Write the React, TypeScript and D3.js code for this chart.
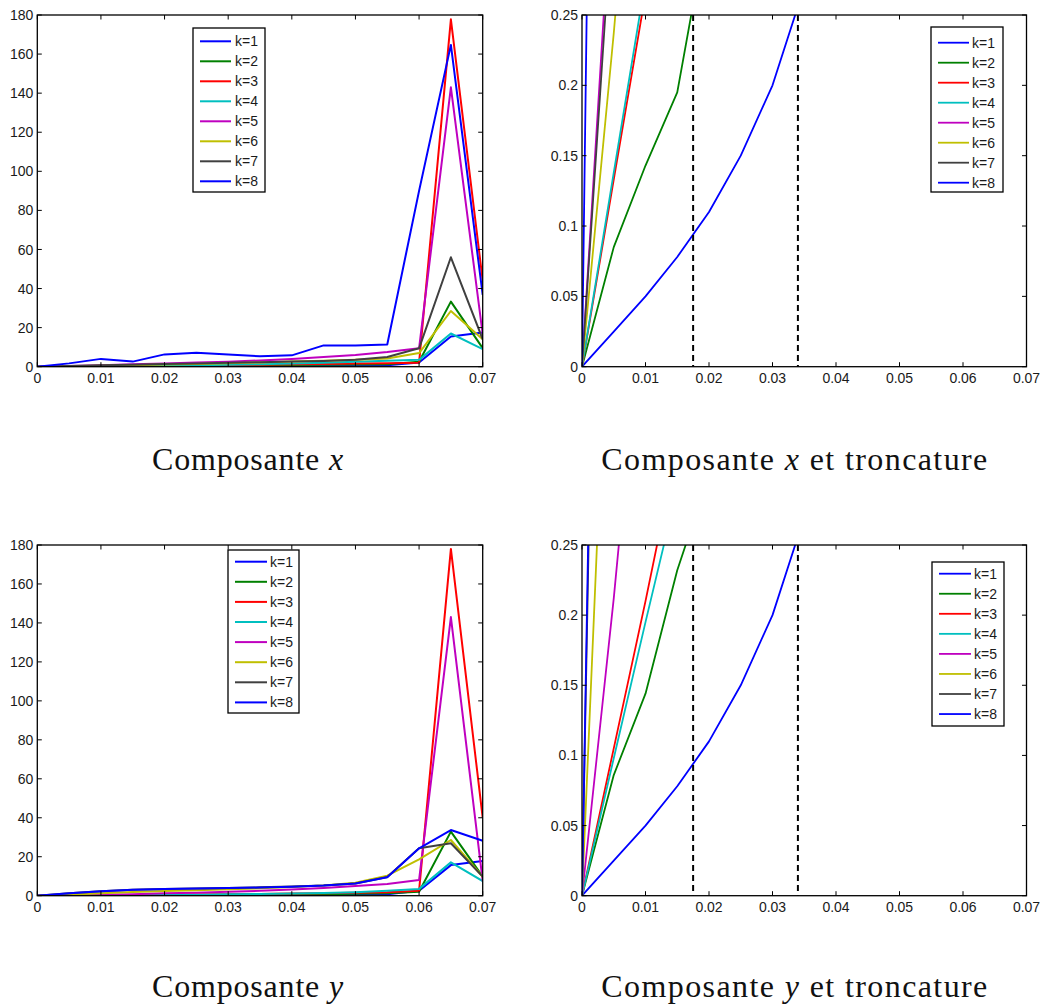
import React from "react";
import * as d3 from "d3";

// ---------- data ----------
const steps = [0, 0.005, 0.01, 0.015, 0.02, 0.025, 0.03, 0.035, 0.04, 0.045, 0.05, 0.055, 0.06, 0.065, 0.07];

const legendLabels = ["k=1", "k=2", "k=3", "k=4", "k=5", "k=6", "k=7", "k=8"];
const seriesColors = ["#0000ff", "#008000", "#ff0000", "#00bfbf", "#bf00bf", "#bfbf00", "#404040", "#0000ff"];

// Composante x
const xK1 = [0, 0.025, 0.05, 0.078, 0.11, 0.15, 0.2, 0.27, 0.35, 0.45, 0.6, 0.8, 2.2, 15.5, 17.5];
const xK2 = [0, 0.085, 0.143, 0.195, 0.32, 0.45, 0.6, 0.75, 0.9, 1.0, 1.1, 1.3, 2.5, 33.3, 9.5];
const xK3 = [0, 0.133, 0.265, 0.4, 0.55, 0.7, 0.85, 1.0, 1.2, 1.4, 1.6, 1.8, 2.0, 177.8, 44];
const xK4 = [0, 0.138, 0.275, 0.42, 0.6, 0.8, 1.0, 1.3, 1.6, 2.0, 2.5, 3.0, 3.5, 17, 9];
const xK5 = [0, 0.365, 0.75, 1.2, 1.7, 2.1, 2.5, 3.2, 4.0, 5.0, 6.0, 7.5, 9.4, 143, 16.5];
const xK6 = [0, 0.237, 0.5, 0.8, 1.1, 1.4, 1.8, 2.2, 2.6, 3.0, 3.5, 4.2, 7.0, 28.5, 14];
const xK7 = [0, 0.34, 0.7, 1.0, 1.4, 1.7, 2.0, 2.3, 2.6, 2.9, 3.5, 5.0, 9.4, 56, 14];
const xK8 = [0, 1.7, 4.0, 2.6, 6.3, 7.2, 6.3, 5.3, 5.8, 10.9, 10.9, 11.4, 90, 164.7, 36.7];

// Composante y
const yK1 = [0, 0.025, 0.05, 0.078, 0.11, 0.15, 0.2, 0.27, 0.35, 0.45, 0.6, 0.8, 2.5, 15.7, 17.8];
const yK2 = [0, 0.086, 0.144, 0.232, 0.3, 0.4, 0.5, 0.6, 0.7, 0.8, 1.0, 1.2, 2.0, 32.9, 9.8];
const yK3 = [0, 0.105, 0.21, 0.32, 0.45, 0.6, 0.75, 0.9, 1.1, 1.3, 1.5, 1.8, 2.5, 178, 40];
const yK4 = [0, 0.098, 0.195, 0.29, 0.4, 0.55, 0.7, 0.9, 1.1, 1.4, 1.8, 2.5, 3.5, 17.1, 7.5];
const yK5 = [0, 0.212, 0.45, 0.8, 1.2, 1.5, 2.0, 2.5, 3.2, 4.0, 5.0, 6.0, 8.0, 143, 7.5];
const yK6 = [0, 0.53, 1.3, 1.9, 2.4, 2.8, 3.3, 3.8, 4.5, 5.3, 6.7, 10.3, 18.6, 28.6, 9.7];
const yK7 = [0, 1.2, 2.3, 3.0, 3.4, 3.7, 3.9, 4.3, 4.7, 5.2, 6.3, 9.6, 24.3, 26.9, 9.8];
const yK8 = [0, 1.3, 2.3, 3.0, 3.4, 3.7, 3.9, 4.2, 4.6, 5.2, 6.3, 9.5, 24.3, 33.7, 28.2];

const compX = [xK1, xK2, xK3, xK4, xK5, xK6, xK7, xK8];
const compY = [yK1, yK2, yK3, yK4, yK5, yK6, yK7, yK8];

const xTickValues = [0, 0.01, 0.02, 0.03, 0.04, 0.05, 0.06, 0.07];
const xTickLabels = ["0", "0.01", "0.02", "0.03", "0.04", "0.05", "0.06", "0.07"];
const yTickFull = [0, 20, 40, 60, 80, 100, 120, 140, 160, 180];
const yTickFullLabels = ["0", "20", "40", "60", "80", "100", "120", "140", "160", "180"];
const yTickTrunc = [0, 0.05, 0.1, 0.15, 0.2, 0.25];
const yTickTruncLabels = ["0", "0.05", "0.1", "0.15", "0.2", "0.25"];
const truncLines = [0.0175, 0.034];

// ---------- layout ----------
type Box = { x0: number; x1: number; y0: number; y1: number };
type Legend = { x0: number; y0: number; x1: number; y1: number; lx0: number; lx1: number; tx: number; row0: number; dy: number };

const panels: {
  id: string; box: Box; yMax: number; yTicks: number[]; yLabels: string[]; data: number[][];
  trunc: boolean; legend: Legend; lw: number; caption: string; capY: number; capX: number;
}[] = [
  { id: "tl", box: { x0: 37.3, x1: 482.7, y0: 15, y1: 366.7 }, yMax: 180, yTicks: yTickFull, yLabels: yTickFullLabels, data: compX, trunc: false,
    legend: { x0: 193, y0: 28, x1: 265, y1: 192, lx0: 200, lx1: 231, tx: 235, row0: 41.3, dy: 20 }, lw: 2, caption: "x", capY: 470, capX: 248 },
  { id: "tr", box: { x0: 582, x1: 1026.5, y0: 15, y1: 366.7 }, yMax: 0.25, yTicks: yTickTrunc, yLabels: yTickTruncLabels, data: compX, trunc: true,
    legend: { x0: 931, y0: 27, x1: 1003, y1: 192, lx0: 938, lx1: 969, tx: 972, row0: 42.7, dy: 20 }, lw: 1.8, caption: "x", capY: 470, capX: 795 },
  { id: "bl", box: { x0: 37.3, x1: 482.7, y0: 545, y1: 895.7 }, yMax: 180, yTicks: yTickFull, yLabels: yTickFullLabels, data: compY, trunc: false,
    legend: { x0: 228, y0: 550, x1: 299, y1: 713, lx0: 235, lx1: 267, tx: 270, row0: 561.7, dy: 20.1 }, lw: 2, caption: "y", capY: 997, capX: 248 },
  { id: "br", box: { x0: 582, x1: 1026.5, y0: 545, y1: 895.7 }, yMax: 0.25, yTicks: yTickTrunc, yLabels: yTickTruncLabels, data: compY, trunc: true,
    legend: { x0: 932, y0: 562, x1: 1004, y1: 726, lx0: 939, lx1: 971, tx: 974, row0: 573.7, dy: 20.05 }, lw: 1.8, caption: "y", capY: 997, capX: 795 },
];

const tickFont = "'Liberation Sans', Arial, Helvetica, sans-serif";
const capFont = "'Liberation Serif', 'Times New Roman', serif";

function Panel({ p }: { p: (typeof panels)[number] }) {
  const { box } = p;
  const xs = d3.scaleLinear().domain([0, 0.07]).range([box.x0, box.x1]);
  const ys = d3.scaleLinear().domain([0, p.yMax]).range([box.y1, box.y0]);
  const line = d3.line<number>().x((_, i) => xs(steps[i])).y((d) => ys(d));
  const tl = 4.5;
  const clipId = `clip-${p.id}`;
  return (
    <g>
      <defs>
        <clipPath id={clipId}>
          <rect x={box.x0} y={box.y0} width={box.x1 - box.x0} height={box.y1 - box.y0} />
        </clipPath>
      </defs>
      <g clipPath={`url(#${clipId})`}>
        {p.data.map((s, i) => (
          <path key={i} d={line(s) || ""} fill="none" stroke={seriesColors[i]} strokeWidth={p.lw} strokeLinejoin="round" />
        ))}
        {p.trunc && truncLines.map((v, i) => (
          <line key={i} x1={xs(v)} x2={xs(v)} y1={box.y0} y2={box.y1} stroke="#000" strokeWidth={2} strokeDasharray="6,4" />
        ))}
      </g>
      {/* ticks */}
      {xTickValues.map((v, i) => (
        <g key={"xt" + i}>
          <line x1={xs(v)} x2={xs(v)} y1={box.y1} y2={box.y1 - tl} stroke="#000" strokeWidth={1} />
          <line x1={xs(v)} x2={xs(v)} y1={box.y0} y2={box.y0 + tl} stroke="#000" strokeWidth={1} />
          <text x={xs(v)} y={box.y1 + 16.5} textAnchor="middle" fontFamily={tickFont} fontSize={14} fill="#1a1a1a">{xTickLabels[i]}</text>
        </g>
      ))}
      {p.yTicks.map((v, i) => (
        <g key={"yt" + i}>
          <line x1={box.x0} x2={box.x0 + tl} y1={ys(v)} y2={ys(v)} stroke="#000" strokeWidth={1} />
          <line x1={box.x1} x2={box.x1 - tl} y1={ys(v)} y2={ys(v)} stroke="#000" strokeWidth={1} />
          <text x={box.x0 - 4} y={ys(v)} dy="0.36em" textAnchor="end" fontFamily={tickFont} fontSize={14} fill="#1a1a1a">{p.yLabels[i]}</text>
        </g>
      ))}
      <rect x={box.x0} y={box.y0} width={box.x1 - box.x0} height={box.y1 - box.y0} fill="none" stroke="#000" strokeWidth={1.3} />
      {/* legend */}
      <rect x={p.legend.x0} y={p.legend.y0} width={p.legend.x1 - p.legend.x0} height={p.legend.y1 - p.legend.y0} fill="#fff" stroke="#000" strokeWidth={1.3} />
      {legendLabels.map((lab, i) => {
        const y = p.legend.row0 + i * p.legend.dy;
        return (
          <g key={"lg" + i}>
            <line x1={p.legend.lx0} x2={p.legend.lx1} y1={y} y2={y} stroke={seriesColors[i]} strokeWidth={p.lw} />
            <text x={p.legend.tx} y={y} dy="0.36em" fontFamily={tickFont} fontSize={14} fill="#1a1a1a">{lab}</text>
          </g>
        );
      })}
      {/* caption */}
      <text x={p.capX} y={p.capY} textAnchor="middle" fontFamily={capFont} fontSize={32} fill="#111" letterSpacing={p.trunc ? 1.4 : 0.8}>
        Composante <tspan fontStyle="italic">{p.caption}</tspan>{p.trunc ? " et troncature" : ""}
      </text>
    </g>
  );
}

export default function App() {
  return (
    <svg width={1046} height={1005} style={{ position: "absolute", left: 0, top: 0, background: "#fff" }}>
      <rect x={0} y={0} width={1046} height={1005} fill="#fff" />
      {panels.map((p) => (
        <Panel key={p.id} p={p} />
      ))}
    </svg>
  );
}
